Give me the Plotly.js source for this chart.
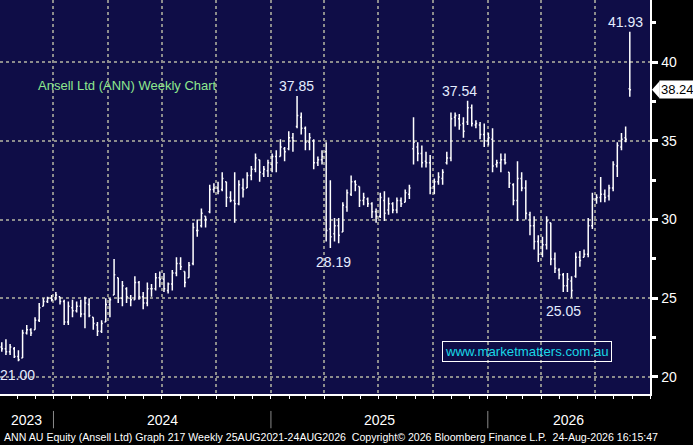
<!DOCTYPE html>
<html>
<head>
<meta charset="utf-8">
<script src="https://cdn.plot.ly/plotly-3.0.1.min.js"></script>
<style>
  html, body { margin: 0; padding: 0; background: #000000; }
  #chart { width: 693px; height: 445px; }
</style>
</head>
<body>
<div id="chart"></div>
<script>
// weekly bars, first one dated 6 Oct 2023, one per week after that
const firstBarDate = "2023-10-06";

const opens = [
  21.9, 21.8, 21.6, 21.8, 21.3, 21.2, 22.8, 23.0, 23.0, 23.6,
  24.5, 24.8, 25.0, 24.9, 25.1, 24.8, 23.5, 24.4, 24.2, 24.5,
  24.0, 24.6, 23.8, 23.3, 22.9, 23.5, 24.6, 25.2, 26.3, 25.0,
  25.6, 25.0, 24.9, 26.0, 25.1, 24.7, 25.6, 25.6, 26.3, 26.2,
  25.5, 25.9, 26.6, 27.2, 26.7, 26.3, 27.2, 29.3, 29.6, 30.2,
  30.5, 31.9, 32.0, 31.9, 32.4, 31.4, 31.2, 31.0, 32.0, 32.0,
  32.8, 33.2, 33.8, 32.9, 33.1, 33.5, 34.0, 34.0, 34.5, 34.5,
  35.2, 35.9, 36.5, 35.8, 34.9, 35.0, 33.6, 33.8, 34.3, 29.4,
  29.1, 29.6, 29.2, 30.8, 31.6, 32.4, 32.1, 31.2, 31.3, 31.0,
  30.5, 30.2, 31.2, 30.6, 31.0, 30.6, 31.2, 31.1, 31.6, 34.5,
  34.6, 34.2, 33.7, 33.6, 32.1, 32.4, 32.6, 33.6, 33.9, 36.5,
  36.4, 36.1, 36.2, 37.1, 36.0, 36.0, 35.4, 35.0, 35.1, 33.5,
  33.6, 33.8, 33.0, 32.2, 31.2, 32.6, 32.0, 30.3, 29.6, 28.6,
  27.8, 28.4, 29.8, 27.5, 26.8, 26.5, 25.8, 26.1, 26.4, 27.6,
  27.6, 27.8, 29.6, 31.3, 31.4, 31.6, 31.5, 32.0, 33.4, 34.6,
  35.2, 38.3
];
const highs = [
  22.2, 22.4, 22.1, 21.9, 21.7, 23.0, 23.3, 23.1, 23.8, 24.7,
  25.0, 25.1, 25.2, 25.4, 25.1, 24.9, 24.8, 24.9, 24.8, 24.9,
  25.1, 25.0, 23.8, 23.5, 23.6, 25.0, 25.0, 27.5, 26.3, 26.1,
  25.7, 25.2, 26.4, 26.1, 25.4, 26.0, 25.9, 26.6, 26.7, 26.6,
  26.0, 26.8, 27.6, 27.6, 26.7, 27.3, 29.8, 30.0, 30.7, 30.2,
  32.2, 32.3, 32.4, 33.0, 32.4, 31.8, 33.0, 32.5, 32.6, 33.0,
  33.4, 34.2, 33.8, 33.4, 33.8, 34.2, 34.4, 35.1, 34.6, 35.6,
  35.5, 37.85, 36.8, 35.9, 35.5, 35.1, 34.0, 34.4, 34.9, 32.5,
  30.1, 30.1, 31.1, 31.9, 32.8, 32.5, 32.1, 31.7, 31.4, 31.1,
  30.7, 31.7, 31.8, 31.4, 31.1, 31.4, 31.4, 31.9, 32.2, 36.5,
  34.9, 34.7, 34.3, 34.1, 32.6, 33.0, 33.2, 34.3, 36.8, 36.8,
  36.7, 36.5, 37.54, 37.3, 36.3, 36.2, 36.1, 35.5, 35.8, 33.8,
  34.2, 34.2, 33.0, 32.3, 33.7, 33.0, 32.5, 30.5, 30.2, 29.0,
  28.9, 30.2, 29.8, 27.9, 26.9, 26.6, 26.6, 26.4, 27.9, 28.0,
  28.1, 30.1, 31.7, 31.6, 32.7, 31.9, 32.2, 33.7, 34.9, 35.5,
  35.9, 41.93
];
const lows = [
  21.6, 21.4, 21.4, 21.2, 21.0, 21.2, 22.7, 22.6, 23.0, 23.5,
  24.5, 24.7, 24.8, 24.9, 24.6, 23.3, 23.3, 23.8, 24.1, 23.8,
  23.1, 23.8, 23.0, 22.6, 22.8, 23.5, 23.8, 25.2, 24.7, 24.5,
  24.7, 24.5, 24.9, 24.9, 24.3, 24.5, 25.1, 25.5, 25.7, 25.4,
  25.3, 25.5, 26.4, 26.8, 25.7, 26.3, 27.1, 28.9, 29.5, 29.5,
  30.4, 31.7, 31.6, 31.8, 30.8, 31.1, 29.8, 30.9, 31.4, 32.0,
  32.5, 33.0, 32.4, 32.7, 32.7, 33.0, 33.0, 34.0, 33.7, 34.4,
  34.3, 35.8, 35.4, 34.4, 34.4, 33.2, 33.4, 33.5, 28.6, 28.19,
  28.6, 28.5, 29.2, 30.5, 31.5, 31.8, 30.8, 30.9, 30.8, 30.1,
  29.8, 30.1, 29.9, 30.3, 30.4, 30.4, 30.8, 31.1, 31.3, 33.5,
  33.7, 33.3, 33.3, 31.6, 31.6, 32.2, 32.2, 33.5, 33.7, 35.9,
  35.7, 35.2, 36.0, 35.9, 35.8, 35.1, 34.6, 34.7, 33.0, 33.3,
  33.0, 33.5, 32.0, 30.9, 29.9, 31.8, 30.0, 29.0, 28.1, 27.3,
  27.6, 28.1, 27.1, 26.6, 26.2, 25.4, 25.4, 25.05, 26.3, 27.0,
  27.6, 27.6, 29.4, 31.0, 31.1, 31.1, 31.2, 31.8, 32.7, 34.4,
  34.9, 37.8
];
const closes = [
  21.8, 21.6, 21.9, 21.3, 21.1, 22.8, 23.0, 22.8, 23.6, 24.4,
  24.8, 25.0, 24.9, 25.2, 24.8, 23.5, 24.5, 24.2, 24.5, 24.0,
  24.7, 23.9, 23.4, 22.9, 23.4, 24.6, 24.9, 26.5, 25.0, 25.8,
  25.1, 24.9, 26.0, 25.1, 24.7, 25.6, 25.6, 26.3, 26.2, 25.6,
  25.9, 26.6, 27.2, 27.0, 26.0, 27.1, 29.5, 29.3, 30.4, 30.0,
  31.9, 32.0, 31.8, 32.6, 31.4, 31.2, 31.0, 32.2, 31.9, 32.8,
  33.2, 33.9, 33.0, 33.2, 33.6, 34.0, 33.6, 34.6, 34.3, 35.2,
  35.0, 36.6, 35.8, 34.9, 35.2, 33.6, 33.8, 34.0, 29.3, 28.9,
  29.6, 29.0, 30.9, 31.7, 32.4, 32.2, 31.2, 31.4, 31.0, 30.5,
  30.2, 31.4, 30.4, 31.0, 30.6, 31.2, 31.0, 31.7, 32.0, 34.9,
  34.2, 33.6, 33.6, 32.0, 32.4, 32.7, 33.0, 33.9, 36.4, 36.6,
  36.0, 35.6, 37.1, 36.1, 36.1, 35.4, 35.0, 35.2, 33.4, 33.6,
  33.8, 33.6, 32.3, 31.2, 32.6, 32.0, 30.4, 29.6, 28.6, 27.8,
  28.4, 29.9, 27.5, 26.9, 26.5, 25.8, 26.2, 25.5, 27.6, 27.4,
  27.8, 29.6, 31.3, 31.4, 31.6, 31.4, 32.0, 33.5, 34.7, 35.1,
  35.1, 38.24
];

// labelled highs / lows: bar index, which end, text, nudge in px
const markedBars = [
  {i: 4,   side: "low",  text: "21.00", dx: -1},
  {i: 71,  side: "high", text: "37.85", dx: -1},
  {i: 79,  side: "low",  text: "28.19", dx: 3},
  {i: 112, side: "high", text: "37.54", dx: -8},
  {i: 137, side: "low",  text: "25.05", dx: -8},
  {i: 151, side: "high", text: "41.93", dx: -4}
];

const yTickVals = [20, 25, 30, 35, 40];
const yMinorVals = [22.5, 27.5, 32.5, 37.5, 42.5];
const yearLabels = ["2023", "2024", "2025", "2026"];

const chartTitle = "Ansell Ltd (ANN) Weekly Chart";
const siteText = "www.marketmatters.com.au";
const footerText = "ANN AU Equity (Ansell Ltd) Graph 217 Weekly 25AUG2021-24AUG2026  Copyright\u00a9 2026 Bloomberg Finance L.P.  24-Aug-2026 16:15:47";

const xRange = ["2023-10-03", "2026-10-01"];
const yRange = [18.92, 43.94];

const FONT = "Liberation Sans, Arial, sans-serif";

function addDays(dateStr, n) {
  const d = new Date(dateStr + "T00:00:00Z");
  d.setUTCDate(d.getUTCDate() + n);
  return d.toISOString().slice(0, 10);
}

const dates = [];
for (let k = 0; k < closes.length; k++) {
  dates.push(addDays(firstBarDate, 7 * k));
}

const trace = {
  type: "ohlc",
  x: dates,
  open: opens,
  high: highs,
  low: lows,
  close: closes,
  increasing: {line: {color: "#ffffff", width: 1.5}},
  decreasing: {line: {color: "#ffffff", width: 1.5}},
  tickwidth: 0.3,
  hoverinfo: "skip",
  showlegend: false
};

const annotations = [];
const shapes = [];

markedBars.forEach(m => {
  const isHigh = m.side === "high";
  annotations.push({
    x: dates[m.i], y: isHigh ? highs[m.i] : lows[m.i],
    xref: "x", yref: "y",
    text: m.text, showarrow: false,
    xanchor: "center", yanchor: isHigh ? "bottom" : "top",
    xshift: m.dx, yshift: isHigh ? 0 : -4,
    font: {family: FONT, size: 14, color: "#e4ecff"}
  });
});

// year blocks along the bottom
const rangeStart = new Date(xRange[0]).getTime();
const rangeEnd = new Date(xRange[1]).getTime();
yearLabels.forEach(y => {
  const from = Math.max(new Date(y + "-01-01").getTime(), rangeStart);
  const to = Math.min(new Date((+y + 1) + "-01-01").getTime(), rangeEnd);
  annotations.push({
    x: new Date((from + to) / 2).toISOString().slice(0, 10), y: -0.066,
    xref: "x", yref: "paper", text: y, showarrow: false,
    xanchor: "center", yanchor: "middle",
    font: {family: FONT, size: 14, color: "#ffffff"}
  });
  if (y !== yearLabels[0]) {
    shapes.push({
      type: "line", xref: "x", yref: "paper",
      x0: y + "-01-01", x1: y + "-01-01", y0: -0.043, y1: -0.087,
      line: {color: "#8a8a8a", width: 1}
    });
  }
});

annotations.push({
  x: 0.055, y: 0.782, xref: "paper", yref: "paper",
  text: chartTitle, showarrow: false, xanchor: "left", yanchor: "middle",
  font: {family: FONT, size: 13, color: "#8ee88e"}
});

annotations.push({
  x: 0.81, y: 0.108, xref: "paper", yref: "paper",
  text: siteText, showarrow: false, xanchor: "center", yanchor: "middle",
  bordercolor: "#ffffff", borderwidth: 1, borderpad: 2,
  font: {family: FONT, size: 13.2, color: "#19d7e6"}
});

annotations.push({
  x: 0.003, y: -0.109, xref: "paper", yref: "paper",
  text: footerText, showarrow: false, xanchor: "left", yanchor: "middle",
  font: {family: FONT, size: 10.6, color: "#ffffff"}
});

// last price flag on the right axis
const lastClose = closes[closes.length - 1];
annotations.push({
  x: 1.0135, y: lastClose, xref: "paper", yref: "y",
  text: lastClose.toFixed(2), showarrow: false, xanchor: "left", yanchor: "middle",
  bgcolor: "#ffffff", borderpad: 1,
  font: {family: FONT, size: 13, color: "#000000"}
});
shapes.push({
  type: "path", xref: "paper", yref: "y",
  path: "M 1.003 " + lastClose + " L 1.015 " + (lastClose + 0.55) + " L 1.015 " + (lastClose - 0.55) + " Z",
  fillcolor: "#ffffff", line: {width: 0}
});

const layout = {
  width: 693,
  height: 445,
  margin: {l: 0, r: 43, t: 0, b: 51},
  paper_bgcolor: "#000000",
  plot_bgcolor: "#0f0d47",
  font: {family: FONT, color: "#ffffff"},
  showlegend: false,
  xaxis: {
    type: "date",
    range: xRange,
    rangeslider: {visible: false},
    tick0: "2024-01-01",
    dtick: "M3",
    showticklabels: false,
    ticks: "outside",
    ticklen: 3,
    tickcolor: "#ffffff",
    showgrid: true,
    gridcolor: "#8c8c8c",
    gridwidth: 2,
    griddash: "dot",
    minor: {dtick: "M1", ticks: "outside", ticklen: 3, tickcolor: "#ffffff", showgrid: false},
    showline: true,
    linecolor: "#ffffff",
    linewidth: 1.5,
    zeroline: false,
    fixedrange: true
  },
  yaxis: {
    side: "right",
    range: yRange,
    tickmode: "array",
    tickvals: yTickVals,
    ticktext: yTickVals.map(v => String(v)),
    ticks: "outside",
    ticklen: 6,
    tickwidth: 3,
    tickcolor: "#ffffff",
    tickfont: {family: FONT, size: 14, color: "#ffffff"},
    ticklabelstandoff: 1,
    minor: {tickvals: yMinorVals, ticks: "outside", ticklen: 4, tickcolor: "#ffffff", showgrid: false},
    showgrid: true,
    gridcolor: "#8c8c8c",
    gridwidth: 2,
    griddash: "dot",
    showline: true,
    linecolor: "#ffffff",
    linewidth: 1.5,
    zeroline: false,
    fixedrange: true
  },
  annotations: annotations,
  shapes: shapes
};

Plotly.newPlot("chart", [trace], layout, {displayModeBar: false, staticPlot: true});
</script>
</body>
</html>
